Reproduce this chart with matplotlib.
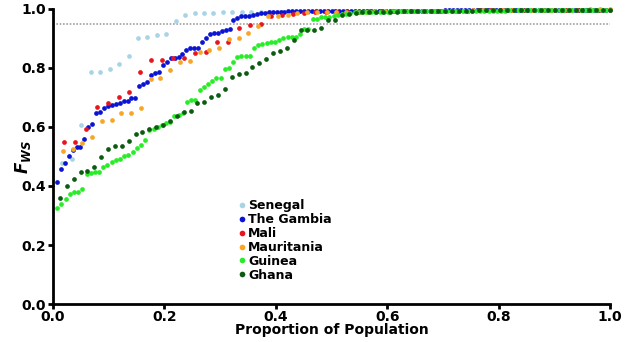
import numpy as np
import matplotlib
matplotlib.use('Agg')
import matplotlib.pyplot as plt

# F_ws values for each population, sorted
senegal = [0.479, 0.490, 0.607, 0.785, 0.785, 0.796, 0.814, 0.842, 0.902, 0.905,
           0.912, 0.915, 0.958, 0.979, 0.985, 0.986,
           0.987, 0.988, 0.988, 0.989, 0.989, 0.990, 0.990, 0.990, 0.991, 0.991,
           0.991, 0.992, 0.992, 0.992, 0.992, 0.993, 0.993, 0.993, 0.993, 0.993,
           0.994, 0.994, 0.994, 0.994, 0.994, 0.995, 0.995, 0.995, 0.995, 0.995,
           0.995, 0.996, 0.996, 0.996, 0.996, 0.996, 0.996, 0.997, 0.997, 0.997,
           0.997, 0.997, 0.997]

gambia = [0.415, 0.459, 0.479, 0.502, 0.522, 0.533, 0.533, 0.560, 0.601, 0.611,
          0.646, 0.651, 0.665, 0.672, 0.676, 0.678, 0.680, 0.689, 0.689, 0.699,
          0.699, 0.740, 0.746, 0.751, 0.776, 0.783, 0.785, 0.810, 0.821, 0.833,
          0.833, 0.838, 0.846, 0.861, 0.867, 0.868, 0.868, 0.887, 0.900, 0.915,
          0.918, 0.919, 0.926, 0.930, 0.933, 0.963, 0.969, 0.975, 0.976, 0.977,
          0.980, 0.983, 0.985,
          0.986, 0.988, 0.989, 0.990, 0.991, 0.991, 0.992, 0.992, 0.992, 0.992,
          0.992, 0.992, 0.992, 0.992, 0.992, 0.992, 0.993, 0.993, 0.993, 0.993,
          0.993, 0.993, 0.993, 0.993, 0.993, 0.993, 0.993, 0.993, 0.993, 0.993,
          0.993, 0.994, 0.994, 0.994, 0.994, 0.994, 0.994, 0.994, 0.994, 0.994,
          0.994, 0.994, 0.994, 0.994, 0.994, 0.994, 0.995, 0.995, 0.995, 0.995,
          0.995, 0.995, 0.995, 0.995, 0.995, 0.995, 0.995, 0.995, 0.995, 0.995,
          0.995, 0.996, 0.996, 0.996, 0.996, 0.996, 0.996, 0.996, 0.996, 0.996,
          0.996, 0.996, 0.996, 0.996, 0.996, 0.996, 0.997, 0.997, 0.997, 0.997,
          0.997, 0.997, 0.997, 0.997, 0.997, 0.997, 0.997, 0.997, 0.997]

mali = [0.549, 0.549, 0.593, 0.669, 0.680, 0.700, 0.720, 0.787, 0.826, 0.826,
        0.832, 0.835, 0.850, 0.853, 0.889, 0.889, 0.934, 0.947, 0.949, 0.976,
        0.978, 0.982, 0.987, 0.988, 0.990,
        0.990, 0.991, 0.991, 0.992, 0.992, 0.992, 0.993, 0.993, 0.993, 0.994,
        0.994, 0.994, 0.994, 0.995, 0.995, 0.995, 0.995, 0.996, 0.996, 0.996,
        0.996, 0.997, 0.997, 0.997, 0.997, 0.997]

mauritania = [0.518, 0.524, 0.547, 0.567, 0.621, 0.623, 0.646, 0.647, 0.663, 0.761,
              0.765, 0.793, 0.820, 0.824, 0.853, 0.862, 0.867, 0.897, 0.903, 0.920,
              0.942, 0.976, 0.976, 0.979, 0.985, 0.988,
              0.989, 0.989, 0.990, 0.990, 0.991, 0.991, 0.992, 0.992, 0.992, 0.993,
              0.993, 0.993, 0.994, 0.994, 0.994, 0.994, 0.995, 0.995, 0.995, 0.995,
              0.996, 0.996, 0.996, 0.996, 0.997, 0.997, 0.997, 0.997, 0.998, 0.998,
              0.998]

guinea = [0.327, 0.339, 0.355, 0.374, 0.380, 0.380, 0.389, 0.440, 0.444, 0.447,
          0.447, 0.464, 0.471, 0.482, 0.488, 0.492, 0.503, 0.505, 0.515, 0.530,
          0.538, 0.556, 0.590, 0.593, 0.599, 0.607, 0.612, 0.617, 0.638, 0.642,
          0.648, 0.683, 0.690, 0.690, 0.725, 0.735, 0.746, 0.756, 0.765, 0.767,
          0.797, 0.799, 0.820, 0.836, 0.840, 0.840, 0.841, 0.867, 0.876, 0.880,
          0.884, 0.887, 0.889, 0.895, 0.900, 0.906, 0.906, 0.906, 0.916, 0.932,
          0.933, 0.966, 0.967, 0.971, 0.972, 0.974, 0.975, 0.979, 0.981, 0.984,
          0.985, 0.989,
          0.989, 0.990, 0.990, 0.990, 0.991, 0.991, 0.991, 0.991, 0.992, 0.992,
          0.992, 0.992, 0.992, 0.992, 0.992, 0.992, 0.993, 0.993, 0.993, 0.993,
          0.993, 0.993, 0.993, 0.993, 0.993, 0.993, 0.994, 0.994, 0.994, 0.994,
          0.994, 0.994, 0.994, 0.994, 0.994, 0.994, 0.995, 0.995, 0.995, 0.995,
          0.995, 0.995, 0.995, 0.995, 0.995, 0.995, 0.996, 0.996, 0.996, 0.996,
          0.996, 0.996, 0.996, 0.996, 0.996, 0.996, 0.997, 0.997, 0.997, 0.997,
          0.997]

ghana = [0.358, 0.399, 0.424, 0.446, 0.452, 0.464, 0.497, 0.525, 0.536, 0.536,
         0.552, 0.576, 0.584, 0.592, 0.601, 0.608, 0.619, 0.637, 0.650, 0.654,
         0.680, 0.686, 0.701, 0.708, 0.730, 0.768, 0.778, 0.782, 0.803, 0.816,
         0.831, 0.850, 0.856, 0.866, 0.895, 0.929, 0.929, 0.930, 0.936, 0.962,
         0.963, 0.979, 0.983, 0.987,
         0.988, 0.989, 0.990, 0.990, 0.991, 0.991, 0.992, 0.992, 0.992, 0.993,
         0.993, 0.993, 0.993, 0.994, 0.994, 0.994, 0.994, 0.995, 0.995, 0.995,
         0.995, 0.995, 0.996, 0.996, 0.996, 0.996, 0.996, 0.997, 0.997, 0.997,
         0.997, 0.997, 0.997, 0.997, 0.997, 0.997, 0.997]

names = ['Senegal', 'The Gambia', 'Mali', 'Mauritania', 'Guinea', 'Ghana']
series = [senegal, gambia, mali, mauritania, guinea, ghana]
colors = ['#a8d4e6', '#0a14d2', '#e8141e', '#f8a628', '#28ec28', '#0c5c10']

threshold = 0.95

plt.rcParams['font.family'] = 'DejaVu Sans'
plt.rcParams['font.weight'] = 'bold'

fig = plt.figure(figsize=(6.25, 3.42), dpi=100)
ax = fig.add_axes([0.0848, 0.111, 0.8912, 0.863])

ax.axhline(threshold, color='#a0a0a0', linestyle=(0, (1, 1)), linewidth=1.2, zorder=1)

for name, ys, c in zip(names, series, colors):
    n = len(ys)
    xs = np.arange(1, n + 1) / n
    ax.plot(xs, ys, 'o', color=c, markersize=3.4, markeredgewidth=0,
            label=name, clip_on=False, zorder=3)

ticks = np.arange(0, 1.01, 0.2)
ax.set_xlim(0, 1)
ax.set_ylim(0, 1)
ax.set_xticks(ticks)
ax.set_yticks(ticks)
ax.set_xticklabels(['%.1f' % v for v in ticks], fontsize=10, fontweight='bold')
ax.set_yticklabels(['%.1f' % v for v in ticks], fontsize=10, fontweight='bold')

for s in ['top', 'right']:
    ax.spines[s].set_visible(False)
for s in ['left', 'bottom']:
    ax.spines[s].set_linewidth(2)
ax.tick_params(width=2, length=3.5, direction='out', pad=1.5)
ax.tick_params(axis='x', pad=0.5)

ax.set_xlabel('Proportion of Population', fontsize=10, fontweight='bold', labelpad=-0.5)
ax.set_ylabel(r'$\mathbfit{F}_{\mathbfit{WS}}$', fontsize=12)
ax.yaxis.set_label_coords(-0.036, 0.5)

ax.legend(loc='upper left', bbox_to_anchor=(0.332, 0.355), frameon=False,
          handlelength=0.6, handletextpad=0.2, labelspacing=0.07,
          borderpad=0, borderaxespad=0, markerscale=1.2,
          prop={'weight': 'bold', 'size': 9})

plt.savefig('out.png', dpi=100)
